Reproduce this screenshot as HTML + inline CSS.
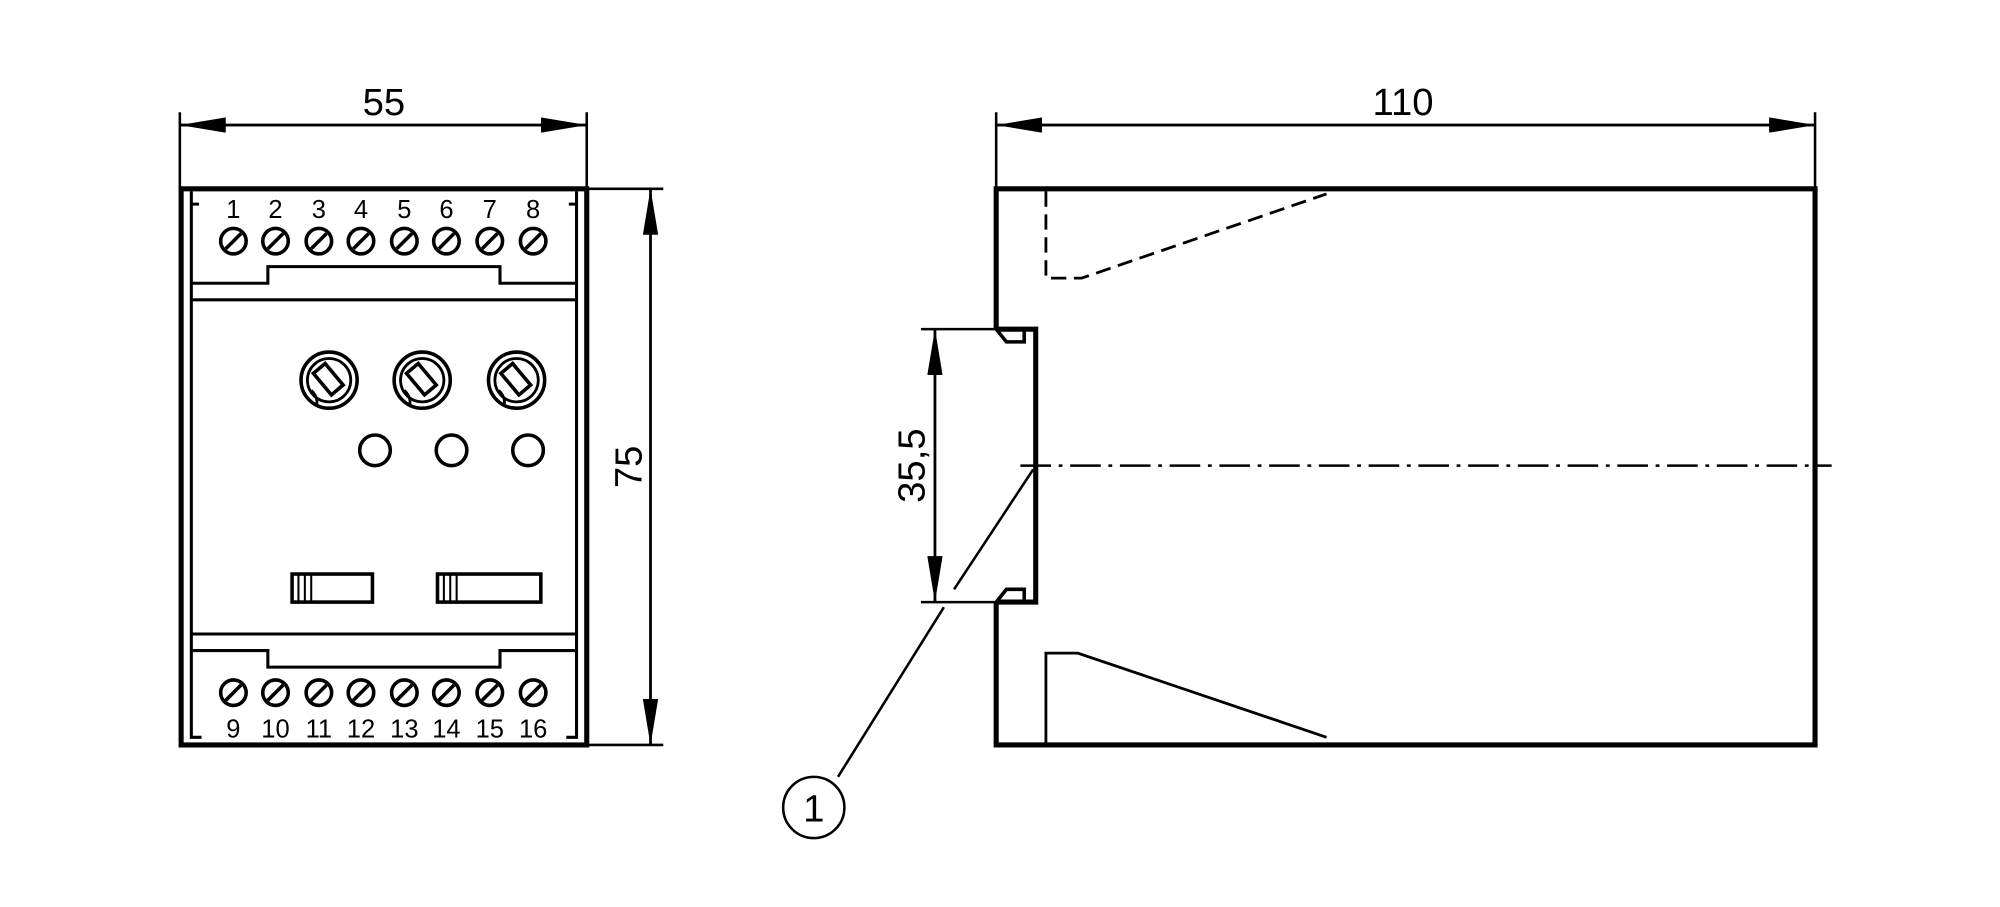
<!DOCTYPE html>
<html><head><style>html,body{margin:0;padding:0;background:#fff}svg{display:block}</style></head>
<body>
<svg width="2000" height="907" viewBox="0 0 1568 711" xmlns="http://www.w3.org/2000/svg" font-family="Liberation Sans, sans-serif" fill="none" stroke="#000">
<defs>
<marker id="a" markerWidth="36" markerHeight="12" refX="36" refY="6" orient="auto" markerUnits="userSpaceOnUse"><path d="M0,0 L36,6 L0,12z" fill="#000" stroke="none"/></marker>
<g id="scr"><circle r="10" stroke-width="2.8"/><line x1="-6" y1="6" x2="6" y2="-6" stroke-width="2.8"/></g>
<g id="knob"><circle r="22" stroke-width="2.8"/><circle r="17" stroke-width="2.2"/><rect x="-6" y="-12" width="12" height="22" transform="rotate(-40)" stroke-width="2.8" fill="#fff"/><path d="M-14,8 q6,6 4,12" stroke-width="2.2"/></g>
</defs>
<rect x="142" y="148" width="318" height="436" stroke-width="4"/>
<path d="M150,150 V160 H156 M452,150 V160 H446 M150,160 V578 H158 M452,160 V578 H444" stroke-width="2.4"/>
<path d="M150,222 H210 V209 H392 V222 H452" stroke-width="2.4"/>
<line x1="150" y1="235" x2="452" y2="235" stroke-width="2.4"/>
<path d="M150,510 H210 V523 H392 V510 H452" stroke-width="2.4"/>
<line x1="150" y1="497" x2="452" y2="497" stroke-width="2.4"/>
<g>
<use href="#scr" x="183" y="189"/><use href="#scr" x="216" y="189"/><use href="#scr" x="250" y="189"/><use href="#scr" x="283" y="189"/><use href="#scr" x="317" y="189"/><use href="#scr" x="350" y="189"/><use href="#scr" x="384" y="189"/><use href="#scr" x="418" y="189"/>
<use href="#scr" x="183" y="543"/><use href="#scr" x="216" y="543"/><use href="#scr" x="250" y="543"/><use href="#scr" x="283" y="543"/><use href="#scr" x="317" y="543"/><use href="#scr" x="350" y="543"/><use href="#scr" x="384" y="543"/><use href="#scr" x="418" y="543"/>
</g>
<g font-size="20" fill="#000" stroke="none" text-anchor="middle">
<text x="183" y="171">1</text><text x="216" y="171">2</text><text x="250" y="171">3</text><text x="283" y="171">4</text><text x="317" y="171">5</text><text x="350" y="171">6</text><text x="384" y="171">7</text><text x="418" y="171">8</text>
<text x="183" y="578">9</text><text x="216" y="578">10</text><text x="250" y="578">11</text><text x="283" y="578">12</text><text x="317" y="578">13</text><text x="350" y="578">14</text><text x="384" y="578">15</text><text x="418" y="578">16</text>
</g>
<use href="#knob" x="258" y="298"/><use href="#knob" x="331" y="298"/><use href="#knob" x="405" y="298"/>
<g stroke-width="2.8"><circle cx="294" cy="353" r="12"/><circle cx="354" cy="353" r="12"/><circle cx="414" cy="353" r="12"/></g>
<g stroke-width="2.8"><rect x="229" y="450" width="63" height="22"/><rect x="343" y="450" width="81" height="22"/></g>
<g stroke-width="1.6"><path d="M234,450v22M239,450v22M244,450v22M348,450v22M353,450v22M358,450v22"/></g>
<g stroke-width="2">
<path d="M141,88V148M460,88V148M460,148H520M460,584H520"/>
<line x1="141" y1="98" x2="460" y2="98" marker-end="url(#a)"/>
<line x1="460" y1="98" x2="141" y2="98" marker-end="url(#a)"/>
<line x1="510" y1="148" x2="510" y2="584" marker-end="url(#a)"/>
<line x1="510" y1="584" x2="510" y2="148" marker-end="url(#a)"/>
</g>
<g font-size="30" fill="#000" stroke="none" text-anchor="middle">
<text x="301" y="90">55</text>
<text transform="translate(503,366) rotate(-90)">75</text>
<text x="1100" y="90">110</text>
<text transform="translate(725,365) rotate(-90)">35,5</text>
</g>
<path d="M781,258V148H1423V584H781V472" stroke-width="4"/>
<path d="M781,258H812V472H781" stroke-width="4"/>
<path d="M781,258 l8,10 h14 v-10 M781,472 l8,-10 h14 v10" stroke-width="2.8"/>
<path d="M820,150V218H848L1040,152" stroke-width="2.2" stroke-dasharray="12,6"/>
<path d="M820,584V512H845L1040,578" stroke-width="2.2"/>
<line x1="800" y1="365" x2="1436" y2="365" stroke-width="2" stroke-dasharray="24,6,3,6"/>
<g stroke-width="2">
<path d="M781,88V148M1423,88V148M722,258H790M722,472H790"/>
<line x1="781" y1="98" x2="1423" y2="98" marker-end="url(#a)"/>
<line x1="1423" y1="98" x2="781" y2="98" marker-end="url(#a)"/>
<line x1="733" y1="258" x2="733" y2="472" marker-end="url(#a)"/>
<line x1="733" y1="472" x2="733" y2="258" marker-end="url(#a)"/>
<line x1="810" y1="368" x2="748" y2="462"/>
<line x1="740" y1="476" x2="657" y2="609"/>
<circle cx="638" cy="633" r="24"/>
</g>
<text x="638" y="644" font-size="30" fill="#000" stroke="none" text-anchor="middle">1</text>
</svg>
</body></html>
